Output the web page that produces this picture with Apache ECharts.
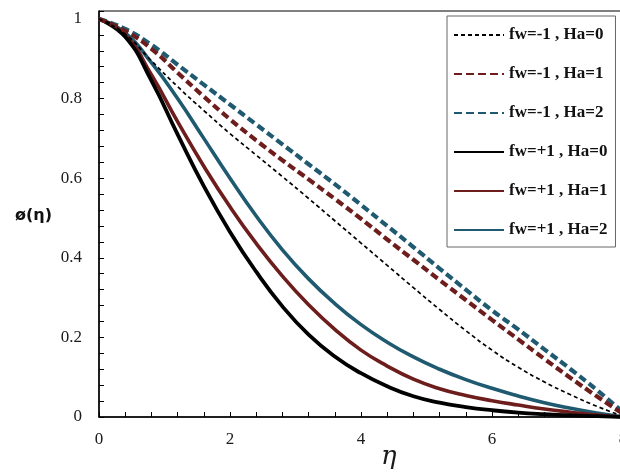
<!DOCTYPE html>
<html>
<head>
<meta charset="utf-8">
<script src="https://cdn.jsdelivr.net/npm/echarts@6/dist/echarts.min.js"></script>
<style>html,body{margin:0;padding:0;background:#fff}#c{width:620px;height:472px}</style>
</head>
<body>
<div id="c"></div>
<script>
var eta = [0, 0.4, 0.8, 1.2, 1.6, 2.0, 2.4, 2.8, 3.2, 3.6, 4.0, 4.4, 4.8, 5.2, 5.6, 6.0, 6.4, 6.8, 7.2, 7.6, 8.0];

var fwm1Ha0 = [1, 0.962, 0.895, 0.83, 0.77, 0.712, 0.658, 0.604, 0.549, 0.493, 0.437, 0.381, 0.325, 0.27, 0.217, 0.168, 0.125, 0.088, 0.056, 0.027, 0.002];
var fwm1Ha1 = [1, 0.97, 0.925, 0.865, 0.805, 0.748, 0.695, 0.645, 0.597, 0.548, 0.498, 0.446, 0.395, 0.344, 0.294, 0.244, 0.195, 0.146, 0.098, 0.052, 0.008];
var fwm1Ha2 = [1, 0.975, 0.935, 0.885, 0.835, 0.785, 0.735, 0.685, 0.635, 0.585, 0.533, 0.48, 0.427, 0.373, 0.32, 0.268, 0.22, 0.17, 0.12, 0.068, 0.012];
var fwp1Ha0 = [1, 0.955, 0.845, 0.71, 0.58, 0.465, 0.365, 0.278, 0.207, 0.152, 0.11, 0.077, 0.052, 0.036, 0.025, 0.017, 0.011, 0.007, 0.004, 0.002, 0];
var fwp1Ha1 = [1, 0.96, 0.86, 0.742, 0.63, 0.528, 0.436, 0.354, 0.282, 0.22, 0.168, 0.128, 0.095, 0.071, 0.054, 0.041, 0.03, 0.02, 0.012, 0.005, 0];
var fwp1Ha2 = [1, 0.965, 0.89, 0.80, 0.70, 0.60, 0.505, 0.42, 0.347, 0.285, 0.232, 0.188, 0.151, 0.12, 0.094, 0.072, 0.053, 0.036, 0.022, 0.01, 0];

var names = ['fw=-1 , Ha=0', 'fw=-1 , Ha=1', 'fw=-1 , Ha=2', 'fw=+1 , Ha=0', 'fw=+1 , Ha=1', 'fw=+1 , Ha=2'];
var values = [fwm1Ha0, fwm1Ha1, fwm1Ha2, fwp1Ha0, fwp1Ha1, fwp1Ha2];
var xTicks = [0, 2, 4, 6, 8];
var yTicks = [0, 0.2, 0.4, 0.6, 0.8, 1];

var RED = '#6e1d1d', BLUE = '#1f5a70', BLACK = '#000000';
var styles = [
  {color: BLACK, width: 1.7, type: [4, 3]},
  {color: RED, width: 4.2, type: [8, 4]},
  {color: BLUE, width: 4.2, type: [8, 4]},
  {color: BLACK, width: 3.8, type: 'solid'},
  {color: RED, width: 3.6, type: 'solid'},
  {color: BLUE, width: 3.6, type: 'solid'}
];

function pairs(v) { return eta.map(function (x, i) { return [x, v[i]]; }); }

var series = names.map(function (n, i) {
  var s = styles[i];
  return {
    name: n, type: 'line', data: pairs(values[i]), smooth: true,
    symbol: 'none', showSymbol: false, z: 10 - i,
    lineStyle: {color: s.color, width: s.width, type: s.type},
    itemStyle: {color: s.color}
  };
});

var chart = echarts.init(document.getElementById('c'), null, {renderer: 'canvas'});
chart.setOption({
  animation: false,
  backgroundColor: '#ffffff',
  grid: {left: 99, top: 11, width: 524, height: 406, show: true, borderColor: '#000', borderWidth: 1,
    backgroundColor: 'transparent', containLabel: false, outerBoundsMode: 'none'},
  xAxis: {
    type: 'value', min: 0, max: 8, interval: 2,
    axisLine: {show: true, lineStyle: {color: '#000', width: 1.5}},
    axisTick: {show: true, inside: true, length: 5, lineStyle: {color: '#000'}},
    minorTick: {show: true, splitNumber: 5, length: 5, lineStyle: {color: '#000'}},
    splitLine: {show: false},
    axisLabel: {margin: 14, fontFamily: 'Liberation Serif', fontSize: 17, color: '#1a1a1a',
      formatter: function (v) { return xTicks.indexOf(v) >= 0 ? String(v) : ''; }}
  },
  yAxis: {
    type: 'value', min: 0, max: 1.02, interval: 0.2,
    axisLine: {show: true, lineStyle: {color: '#000', width: 1.5}},
    axisTick: {show: true, inside: true, length: 5, lineStyle: {color: '#000'}},
    minorTick: {show: true, splitNumber: 5, length: 5, lineStyle: {color: '#000'}},
    splitLine: {show: false},
    axisLabel: {margin: 17, fontFamily: 'Liberation Serif', fontSize: 17, color: '#1a1a1a', showMaxLabel: false,
      formatter: function (v) {
        for (var i = 0; i < yTicks.length; i++) { if (Math.abs(yTicks[i] - v) < 1e-9) return String(yTicks[i]); }
        return '';
      }}
  },
  legend: {
    orient: 'vertical', left: 447, top: 16,
    padding: [9, 8, 7, 6], itemGap: 19, itemWidth: 50, itemHeight: 14,
    backgroundColor: '#fff', borderColor: '#666', borderWidth: 1,
    itemStyle: {opacity: 0, borderWidth: 0},
    textStyle: {fontFamily: 'Liberation Serif', fontSize: 17, fontWeight: 'bold', color: '#111', lineHeight: 20},
    data: names
  },
  graphic: [
    {type: 'text', left: 15, top: 208, style: {text: 'ø(η)', font: 'bold 16px "DejaVu Sans"', fill: '#111'}},
    {type: 'text', left: 381, top: 444, style: {text: 'η', font: 'italic 26px "DejaVu Serif"', fill: '#1a1a1a'}}
  ],
  series: series
});
</script>
</body>
</html>
